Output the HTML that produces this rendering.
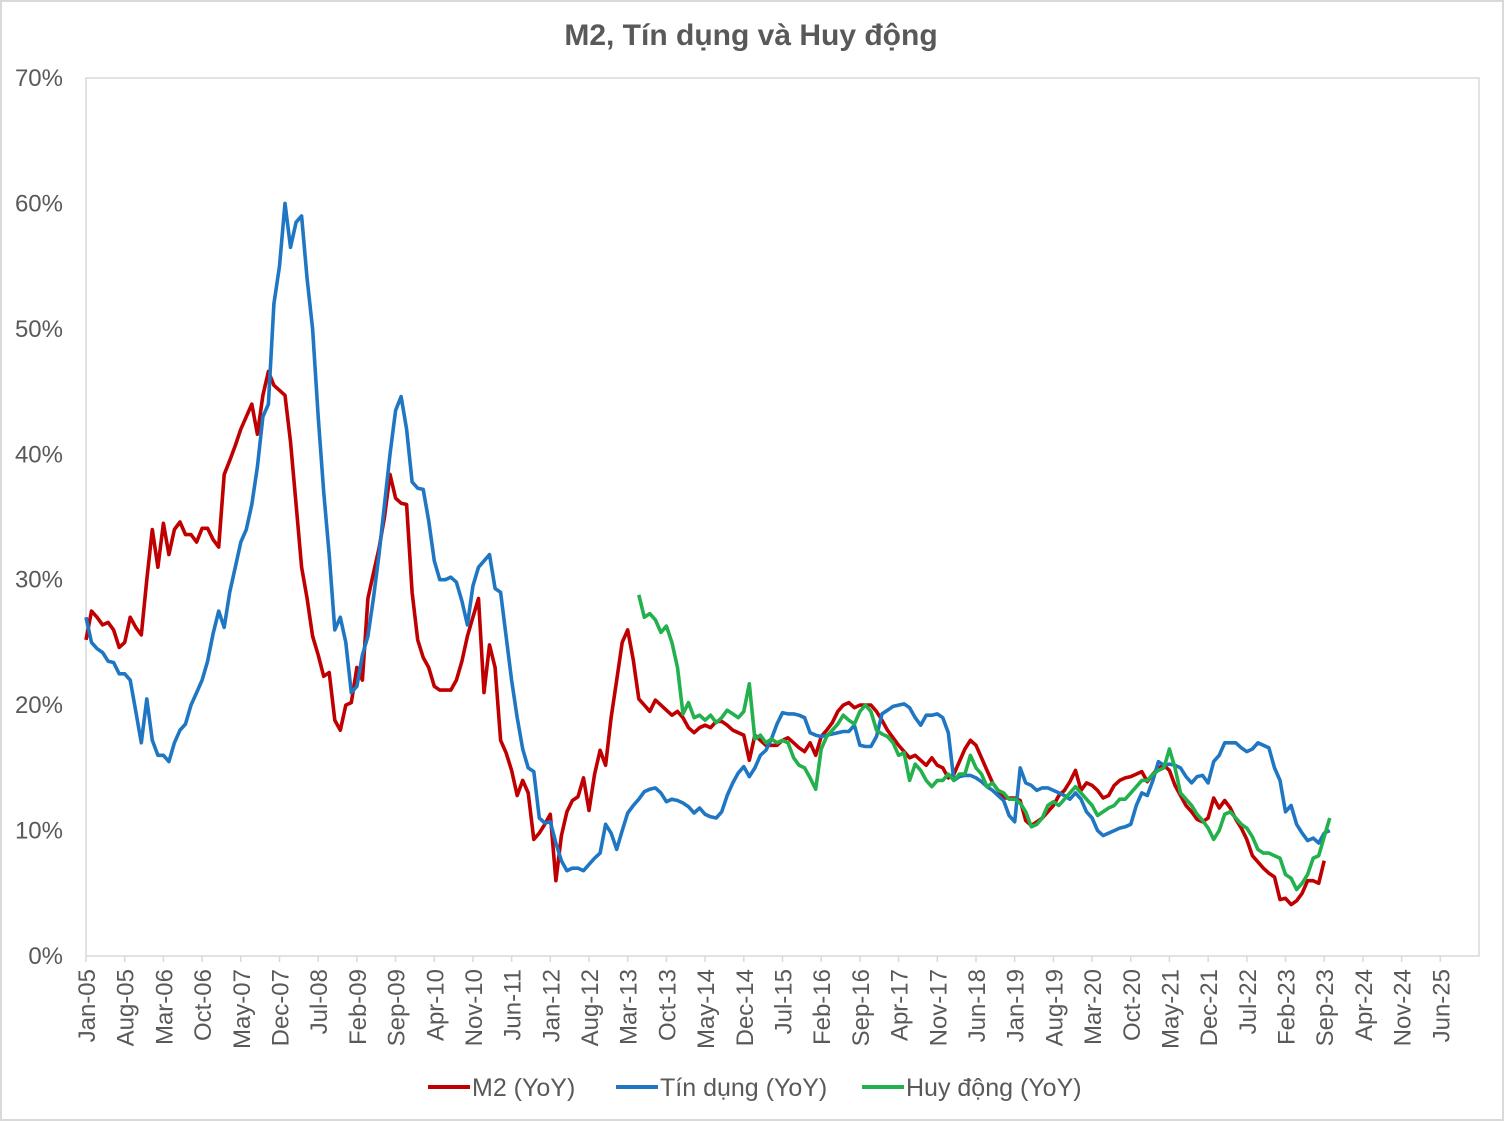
<!DOCTYPE html>
<html><head><meta charset="utf-8"><style>
html,body{margin:0;padding:0;background:#fff;}
svg{display:block;font-family:"Liberation Sans","Noto Sans CJK SC",sans-serif;}
</style></head><body>
<svg id="chart" width="1504" height="1121" viewBox="0 0 1504 1121" xmlns="http://www.w3.org/2000/svg">
<rect x="1" y="1" width="1502" height="1119" fill="#fff" stroke="#d9d9d9" stroke-width="2"/>
<text x="751" y="45" text-anchor="middle" font-size="30" font-weight="bold" fill="#595959">M2, Tín dụng và Huy động</text>
<rect x="86" y="78" width="1393" height="878" fill="none" stroke="#d9d9d9" stroke-width="1.5"/>
<g id="yaxis"></g>
<g id="xaxis"></g>
<g id="series"></g>
<g>
 <g><line x1="428" y1="1087" x2="470" y2="1087" stroke="#c00000" stroke-width="4"/><text x="472" y="1096" font-size="25" fill="#595959">M2 (YoY)</text></g>
 <g><line x1="616" y1="1087" x2="658" y2="1087" stroke="#1f77c4" stroke-width="4"/><text x="660" y="1096" font-size="25" fill="#595959">Tín dụng (YoY)</text></g>
 <g><line x1="862" y1="1087" x2="904" y2="1087" stroke="#22b14c" stroke-width="4"/><text x="906" y="1096" font-size="25" fill="#595959">Huy động (YoY)</text></g>
</g>
</svg>
<script>
const monthNames = ["Jan","Feb","Mar","Apr","May","Jun","Jul","Aug","Sep","Oct","Nov","Dec"];
const yTicks = [0,10,20,30,40,50,60,70];
const m2Start = 0;
const creditStart = 0;
const depositStart = 100;
const m2Values = [25.2,27.5,27,26.4,26.6,26,24.6,25,27,26.2,25.6,30,34,31,34.5,32,34,34.6,33.6,33.6,33,34.1,34.1,33.2,32.6,38.4,39.5,40.7,42,43,44,41.6,44.7,46.6,45.5,45.1,44.7,41,36,31,28.5,25.5,24,22.3,22.6,18.8,18,20,20.2,23,22,28.5,30.5,32.5,35,38.4,36.5,36.1,36,29,25.2,23.8,23,21.5,21.2,21.2,21.2,22,23.5,25.5,27,28.5,21,24.8,23,17.2,16.2,14.8,12.8,14,13,9.3,9.8,10.5,11.3,6,9.6,11.5,12.4,12.7,14.2,11.6,14.5,16.4,15.2,19,22,25,26,23.6,20.5,20,19.5,20.4,20,19.6,19.2,19.5,19,18.2,17.8,18.2,18.4,18.2,18.7,18.7,18.4,18,17.8,17.6,15.6,17.6,17.2,16.8,16.8,16.8,17.2,17.4,17,16.6,16.3,17,16,17.5,18,18.6,19.5,20,20.2,19.8,20,20,20,19.5,18.8,18,17.4,16.8,16.3,15.8,16,15.6,15.2,15.8,15.2,15,14.2,14.5,15.5,16.5,17.2,16.8,15.8,14.8,13.8,13.2,12.6,12.6,12.6,12.4,10.8,10.4,10.7,11,11.5,12,12.8,13.2,13.9,14.8,13.2,13.8,13.6,13.2,12.6,12.8,13.6,14,14.2,14.3,14.5,14.7,13.9,14.5,15,15.2,14.8,13.6,12.8,12,11.5,10.9,10.7,11,12.6,11.8,12.4,11.8,10.9,10.2,9.3,8,7.5,7,6.6,6.3,4.5,4.6,4.1,4.4,5,6,6,5.8,7.6];
const creditValues = [27,25,24.5,24.2,23.5,23.4,22.5,22.5,22,19.5,17,20.5,17.2,16,16,15.5,17,18,18.5,20,21,22,23.5,25.7,27.5,26.2,29,31,33,34,36,39,43,44,52,55,60,56.5,58.5,59,54,50,43,37,32,26,27,25,21,21.5,24,25.5,28.5,32,36,40,43.5,44.6,42,37.8,37.3,37.2,34.7,31.5,30,30,30.2,29.8,28.3,26.4,29.5,31,31.5,32,29.3,29,25.5,22,19,16.5,15,14.7,11,10.6,10.7,9,7.6,6.8,7,7,6.8,7.3,7.8,8.2,10.5,9.8,8.5,10,11.4,12,12.5,13.1,13.3,13.4,13,12.3,12.5,12.4,12.2,11.9,11.4,11.8,11.3,11.1,11,11.5,12.8,13.8,14.6,15.1,14.3,15,16,16.4,17.3,18.5,19.4,19.3,19.3,19.2,19,17.8,17.6,17.5,17.6,17.7,17.8,17.9,17.9,18.4,16.8,16.7,16.7,17.5,19.3,19.6,19.9,20,20.1,19.8,19,18.4,19.2,19.2,19.3,19,17.8,14,14.3,14.4,14.4,14.2,13.9,13.5,13.2,12.8,12.4,11.2,10.7,15,13.8,13.6,13.2,13.4,13.4,13.2,13,12.8,12.5,13,12.5,11.5,11,10,9.6,9.8,10,10.2,10.3,10.5,12,13,12.8,14,15.5,15.2,15.3,15.2,15,14.3,13.8,14.3,14.4,13.8,15.5,16,17,17,17,16.6,16.3,16.5,17,16.8,16.6,15,14,11.5,12,10.5,9.8,9.2,9.4,9,9.8,10];
const depositValues = [28.8,27,27.3,26.8,25.8,26.3,25,23,19.3,20.2,19,19.2,18.8,19.2,18.6,19,19.6,19.3,19,19.5,21.7,17.3,17.6,17,17.3,17,17.2,17,15.8,15.2,15,14.2,13.3,16.5,17.5,18,18.5,19.2,18.8,18.5,19.5,20,19.5,18,17.7,17.5,17,16,16.2,14,15.3,14.8,14,13.5,14,14,14.5,14,14.5,14.5,16,15,14.5,13.5,13.8,13.2,13,12.5,12.5,12.2,11.5,10.3,10.5,11,12,12.3,12,12.5,13,13.5,13,12.5,12,11.2,11.5,11.8,12,12.5,12.5,13,13.5,14,14,14.5,14.8,15,16.5,15,13,12.5,12,11.3,10.8,10.2,9.3,10,11.3,11.5,11,10.5,10.2,9.5,8.5,8.2,8.2,8,7.8,6.5,6.2,5.3,5.8,6.5,7.8,8,9.5,11];

const NS="http://www.w3.org/2000/svg";
const X0=86,X1=1479,Y0=956,Y1=78,TOTAL=252;
function xScale(m){return X0+m*(X1-X0)/TOTAL;}
function yScale(v){return Y0-v*(Y0-Y1)/70;}
function mk(tag,attrs,parent){const e=document.createElementNS(NS,tag);for(const k in attrs)e.setAttribute(k,attrs[k]);parent.appendChild(e);return e;}

const ya=document.getElementById('yaxis');
yTicks.forEach(v=>{
  const t=mk('text',{x:63,y:yScale(v)+8,'text-anchor':'end','font-size':24,fill:'#595959'},ya);
  t.textContent=v+'%';
  
  
});
const xa=document.getElementById('xaxis');
for(let m=0;m<=245;m+=7){
  const x=xScale(m);
  const tk=mk('line',{x1:x,y1:Y0,x2:x,y2:Y0+6,stroke:'#d9d9d9','stroke-width':1.5},xa);
  
  
  const yr=5+Math.floor(m/12);
  const lbl=monthNames[m%12]+'-'+String(yr).padStart(2,'0');
  const t=mk('text',{x:0,y:0,'text-anchor':'end','font-size':24,fill:'#595959',transform:'translate('+(x+9)+','+(Y0+13)+') rotate(-90)'},xa);
  t.textContent=lbl;
  
  
}
const sg=document.getElementById('series');
function drawSeries(vals,start,color,name){
  const d=vals.map((v,i)=>(i?'L':'M')+xScale(start+i).toFixed(1)+','+yScale(v).toFixed(1)).join(' ');
  const p=mk('path',{d:d,fill:'none',stroke:color,'stroke-width':3.6,'stroke-linejoin':'round'},sg);
  
  
}
drawSeries(m2Values,m2Start,'#c00000','m2-line');
drawSeries(creditValues,creditStart,'#1f77c4','credit-line');
drawSeries(depositValues,depositStart,'#22b14c','deposit-line');
</script>
</body></html>
